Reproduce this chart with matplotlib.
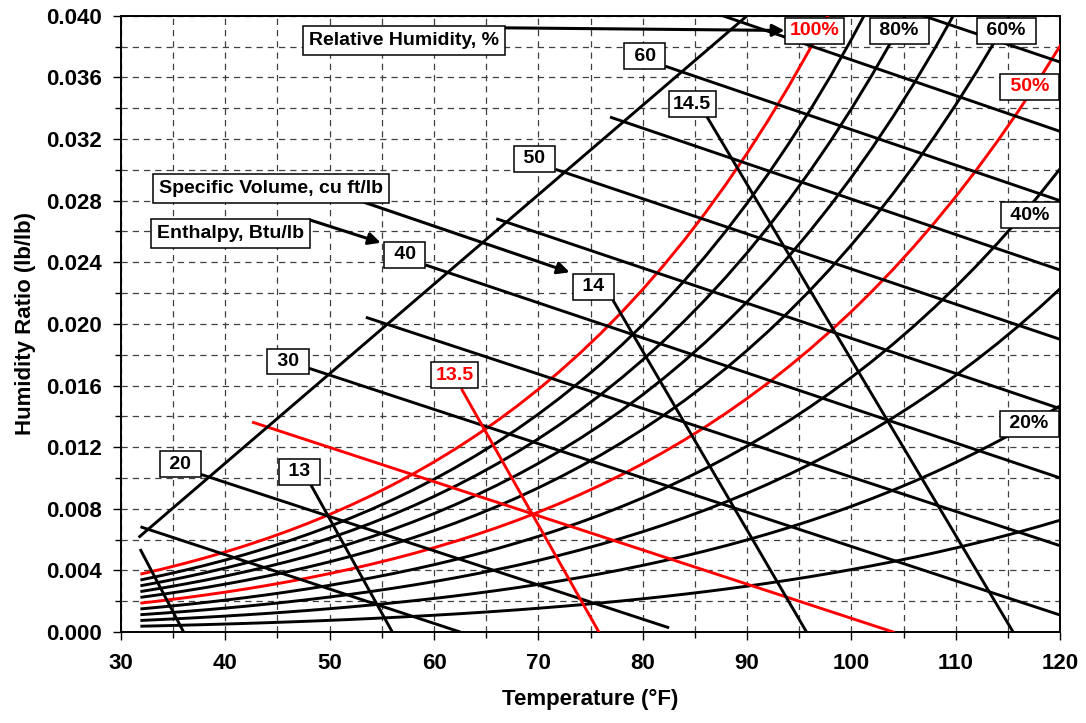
import numpy as np
import matplotlib
matplotlib.use('Agg')
from matplotlib import pyplot as plt
from matplotlib.ticker import MultipleLocator, FormatStrFormatter

# psychrometric chart, sea level
P_ATM = 14.696  # psia

# saturation pressure of water vapour (psia), every 2 F
t_sat = np.arange(32, 122, 2)
p_sat = [0.08865, 0.09607, 0.10403, 0.11257, 0.12173, 0.13155, 0.14205, 0.15328,
         0.16529, 0.17811, 0.19180, 0.20641, 0.22197, 0.23857, 0.25623, 0.27504,
         0.29506, 0.31635, 0.33898, 0.36304, 0.38858, 0.41569, 0.44445, 0.47494,
         0.50726, 0.54147, 0.57768, 0.61598, 0.65647, 0.69924, 0.74441, 0.79206,
         0.84233, 0.89531, 0.95113, 1.0099, 1.0718, 1.1369, 1.2054, 1.2773,
         1.3529, 1.4322, 1.5154, 1.6027, 1.6943]

rh_levels = [10, 20, 30, 40, 50, 60, 70, 80, 90, 100]
rh_red = [50, 100]

# enthalpy lines (Btu/lb): start and end points
enth_levels = [15, 20, 25, 30, 35, 40, 45, 50, 55, 60, 65, 70]
enth_t0 = [32.0, 37.8, 42.7, 48.1, 53.6, 59.3, 66.1, 71.8, 77.0, 82.3, 87.7, 106.9]
enth_w0 = [0.0068, 0.0102, 0.0136, 0.0171, 0.0204, 0.0238, 0.0268, 0.0300, 0.0334, 0.0367, 0.0400, 0.0400]
enth_t1 = [62.5, 82.4, 104.0, 120, 120, 120, 120, 120, 120, 120, 120, 120]
enth_w1 = [0.0, 0.0003, 0.0, 0.0011, 0.0056, 0.0100, 0.0145, 0.0190, 0.0235, 0.0280, 0.0325, 0.0370]
enth_red = [25]

# specific volume lines (cu ft/lb)
vol_levels = [12.5, 13.0, 13.5, 14.0, 14.5]
vol_t0 = [31.9, 48.2, 62.7, 77.1, 86.2]
vol_w0 = [0.0053, 0.00955, 0.0157, 0.0216, 0.0334]
vol_t1 = [36.0, 56.0, 75.8, 95.7, 115.5]
vol_w1 = [0.0, 0.0, 0.0, 0.0, 0.0]
vol_red = [13.5]

# enthalpy scale line
scale_t = [31.8, 90.0]
scale_w = [0.0062, 0.0400]

# labels: text, T, W, red?
line_labels = [
    ('20', 35.7, 0.01088, False), ('30', 46.0, 0.01756, False),
    ('40', 57.2, 0.02448, False), ('50', 69.6, 0.03071, False),
    ('60', 80.2, 0.03737, False),
    ('13', 47.1, 0.01039, False), ('13.5', 62.0, 0.01666, True),
    ('14', 75.3, 0.02240, False), ('14.5', 84.75, 0.03425, False),
    ('100%', 96.5, 0.03903, True), ('80%', 104.6, 0.03903, False),
    ('60%', 114.85, 0.03903, False), ('50%', 117.1, 0.03539, True),
    ('40%', 117.15, 0.02705, False), ('20%', 117.05, 0.01351, False),
]
titles = [
    ('Relative Humidity, %', 57.1, 0.03838, 66.9, 0.03922, 93.6, 0.03905),
    ('Specific Volume, cu ft/lb', 44.4, 0.02880, 53.2, 0.02792, 73.0, 0.02335),
    ('Enthalpy, Btu/lb', 40.5, 0.02588, 48.1, 0.02675, 54.9, 0.02527),
]

plt.rcParams['font.family'] = ['Liberation Sans', 'DejaVu Sans']
plt.rcParams['font.weight'] = 'bold'

fig, ax = plt.subplots(figsize=(10.86, 7.23), dpi=100)
fig.subplots_adjust(left=0.1114, right=0.9761, top=0.9781, bottom=0.1259)

lw = 2.1
t = np.array(t_sat, dtype=float)
ps = np.array(p_sat)
for rh in rh_levels:
    pw = rh / 100.0 * ps
    w = 0.621945 * pw / (P_ATM - pw)
    ax.plot(t, w, color='red' if rh in rh_red else 'black', lw=lw, zorder=3)

for h, a, b, c, d in zip(enth_levels, enth_t0, enth_w0, enth_t1, enth_w1):
    ax.plot([a, c], [b, d], color='red' if h in enth_red else 'black', lw=lw, zorder=3)

for v, a, b, c, d in zip(vol_levels, vol_t0, vol_w0, vol_t1, vol_w1):
    ax.plot([a, c], [b, d], color='red' if v in vol_red else 'black', lw=lw, zorder=3)

ax.plot(scale_t, scale_w, color='black', lw=lw, zorder=3)

box = dict(boxstyle='square,pad=0.23', fc='white', ec='black', lw=1.1)
for txt, x, y, red in line_labels:
    pad_txt = txt if len(txt) == 4 else ' ' + txt + ' '
    ax.text(x, y, pad_txt, ha='center', va='center', fontsize=14, fontweight='bold',
            color='red' if red else 'black', bbox=box, zorder=6)

for txt, x, y, x0, y0, x1, y1 in titles:
    ax.annotate('', xy=(x1, y1), xytext=(x0, y0),
                arrowprops=dict(arrowstyle='-|>', color='black', lw=2.2,
                                mutation_scale=18, shrinkA=0, shrinkB=0), zorder=5)
    ax.text(x, y, txt, ha='center', va='center', fontsize=14, fontweight='bold',
            bbox=dict(boxstyle='square,pad=0.3', fc='white', ec='black', lw=1.1), zorder=6)

ax.set_xlim(30, 120)
ax.set_ylim(0, 0.040)
ax.xaxis.set_major_locator(MultipleLocator(10))
ax.xaxis.set_minor_locator(MultipleLocator(5))
ax.yaxis.set_major_locator(MultipleLocator(0.004))
ax.yaxis.set_minor_locator(MultipleLocator(0.002))
ax.yaxis.set_major_formatter(FormatStrFormatter('%.3f'))
ax.grid(which='both', ls=(0, (5, 4)), color='#404040', lw=0.9)
ax.set_axisbelow(True)
ax.tick_params(which='major', direction='out', length=6, width=1, labelsize=16)
ax.tick_params(which='minor', direction='out', length=4, width=1)
ax.tick_params(axis='x', which='major', pad=9)
ax.tick_params(axis='y', which='major', pad=8)
for s in ax.spines.values():
    s.set_linewidth(1.4)

ax.set_xlabel('Temperature (°F)', fontsize=16, fontweight='bold', labelpad=11)
ax.set_ylabel('Humidity Ratio (lb/lb)', fontsize=16, fontweight='bold', labelpad=7)

fig.savefig('out.png', dpi=100)
